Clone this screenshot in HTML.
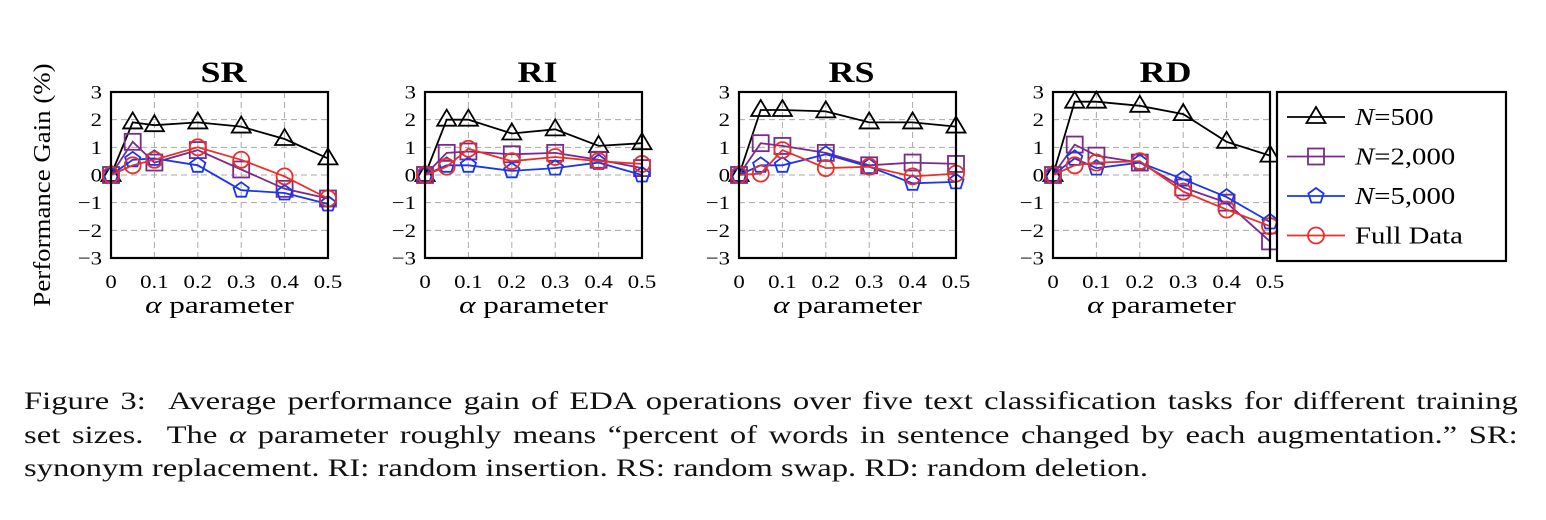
<!DOCTYPE html>
<html><head><meta charset="utf-8"><style>
body{margin:0;background:#fff;width:1546px;height:520px;overflow:hidden;font-family:"Liberation Serif",serif}
svg{position:absolute;left:0;top:0}
#cap{position:absolute;left:24px;top:384px;width:1167px;font-size:25.5px;line-height:33.5px;color:#111;transform:scaleX(1.28);transform-origin:0 0}
#cap div{white-space:nowrap;text-align:justify;text-align-last:justify}
#cap div.last{text-align-last:left}
</style></head><body>
<svg id="chart" width="1546" height="380" xmlns="http://www.w3.org/2000/svg" font-family="Liberation Serif, serif"></svg>
<div id="cap">
<div>Figure 3: &nbsp;Average performance gain of EDA operations over five text classification tasks for different training</div>
<div>set sizes. &nbsp;The <i>α</i> parameter roughly means “percent of words in sentence changed by each augmentation.” SR:</div>
<div class="last">synonym replacement. RI: random insertion. RS: random swap. RD: random deletion.</div>
</div>
<script>
const alphas=[0,0.05,0.1,0.2,0.3,0.4,0.5];
const xTicks=[0,0.1,0.2,0.3,0.4,0.5];
const yTicks=[-3,-2,-1,0,1,2,3];
const panels=["SR","RI","RS","RD"];
const seriesNames=["N=500","N=2,000","N=5,000","Full Data"];
const srN500=[0,1.9,1.8,1.9,1.75,1.3,0.6];
const srN2000=[0,1.2,0.45,0.9,0.2,-0.5,-0.85];
const srN5000=[0,0.55,0.6,0.35,-0.55,-0.65,-1.05];
const srFull=[0,0.35,0.55,1.0,0.55,-0.05,-0.85];
const riN500=[0,2.0,2.0,1.5,1.65,1.05,1.15];
const riN2000=[0,0.8,0.85,0.75,0.8,0.55,0.25];
const riN5000=[0,0.35,0.35,0.15,0.25,0.45,0.0];
const riFull=[0,0.3,0.95,0.5,0.65,0.5,0.4];
const rsN500=[0,2.35,2.35,2.3,1.9,1.9,1.75];
const rsN2000=[0,1.15,1.05,0.8,0.35,0.45,0.4];
const rsN5000=[0,0.35,0.35,0.75,0.3,-0.3,-0.25];
const rsFull=[0,0.05,0.9,0.25,0.3,-0.05,0.05];
const rdN500=[0,2.65,2.65,2.5,2.2,1.2,0.7];
const rdN2000=[0,1.1,0.7,0.45,-0.45,-1.0,-2.4];
const rdN5000=[0,0.6,0.25,0.45,-0.15,-0.8,-1.7];
const rdFull=[0,0.35,0.45,0.5,-0.6,-1.25,-1.85];
const data=[[srN500,srN2000,srN5000,srFull],[riN500,riN2000,riN5000,riFull],[rsN500,rsN2000,rsN5000,rsFull],[rdN500,rdN2000,rdN5000,rdFull]];
const colors=["#000","#7b2a8a","#1a35f0","#e8302a"];
const shapes=["tri","sq","pent","circ"];
const NS="http://www.w3.org/2000/svg";
const svg=document.getElementById("chart");
function mk(t,a,p){const e=document.createElementNS(NS,t);for(const k in a)e.setAttribute(k,a[k]);(p||svg).appendChild(e);return e;}
function txt(p,x,y,size,anchor,sc,extra){const a={x:0,y:0,"font-size":size,"text-anchor":anchor,transform:`translate(${x},${y}) scale(${sc},1)`};Object.assign(a,extra||{});return mk("text",a,p);}
const lefts=[111,425,739,1053],W=217,plotTop=92,H=166;
function marker(g,s,x,y,c){
  let e;
  if(s==="tri"){const r=10;e=mk("polygon",{points:`${x},${y-r} ${x+r*0.95},${y+r*0.6} ${x-r*0.95},${y+r*0.6}`},g);}
  else if(s==="sq"){e=mk("rect",{x:x-8,y:y-8,width:16,height:16},g);}
  else if(s==="pent"){let p=[];for(let i=0;i<5;i++){const a=-Math.PI/2+i*2*Math.PI/5;p.push((x+8*Math.cos(a)).toFixed(1)+","+(y+8*Math.sin(a)).toFixed(1));}e=mk("polygon",{points:p.join(" ")},g);}
  else e=mk("circle",{cx:x,cy:y,r:8},g);
  e.setAttribute("fill","none");e.setAttribute("stroke",c);e.setAttribute("stroke-width","1.8");
  
  
}
panels.forEach((name,pi)=>{
  const L=lefts[pi];
  const sx=v=>L+v/0.5*W, sy=v=>plotTop+(3-v)/6*H;
  const g=mk("g",{});
  
  
  xTicks.forEach(t=>{if(t>0&&t<0.5)mk("line",{x1:sx(t),x2:sx(t),y1:plotTop,y2:plotTop+H,stroke:"#aaa","stroke-dasharray":"6,4","stroke-width":1},g);
    const tl=txt(g,sx(t),288,19,"middle",1.2);tl.textContent=String(t);
    });
  yTicks.forEach(t=>{if(t>-3&&t<3)mk("line",{x1:L,x2:L+W,y1:sy(t),y2:sy(t),stroke:"#aaa","stroke-dasharray":"6,4","stroke-width":1},g);
    const tl=txt(g,L-9,sy(t)+6.5,19,"end",1.2);tl.textContent=t<0?"−"+(-t):String(t);
    });
  const ttl=txt(g,L+W/2+4,82,30,"middle",1.2,{"font-weight":"bold"});ttl.textContent=name;
  
  const xl=txt(g,L+W/2,313,24,"middle",1.3);xl.innerHTML='<tspan font-style="italic">α</tspan> parameter';
  
  data[pi].forEach((vals,si)=>{
    const pts=vals.map((v,i)=>sx(alphas[i]).toFixed(1)+","+sy(v).toFixed(1)).join(" ");
    const pl=mk("polyline",{points:pts,fill:"none",stroke:colors[si],"stroke-width":1.8},g);
    
    vals.forEach((v,i)=>marker(g,shapes[si],sx(alphas[i]),sy(v),colors[si]));
  });
  const fr=mk("rect",{x:L,y:plotTop,width:W,height:H,fill:"none",stroke:"#000","stroke-width":2.2},g);
  
});
const yt=mk("text",{x:0,y:0,"font-size":24,"text-anchor":"middle",transform:"translate(50,185) rotate(-90) scale(1.12,1)"});
yt.textContent="Performance Gain (%)";

const lg=mk("g",{});

mk("rect",{x:1277,y:92,width:229,height:169,fill:"#fff",stroke:"#000","stroke-width":2.2},lg);
seriesNames.forEach((n,i)=>{
  const y=117+i*39.5;
  const ent=mk("g",{},lg);
  
  mk("line",{x1:1287,x2:1345,y1:y,y2:y,stroke:colors[i],"stroke-width":1.8},ent);
  marker(ent,shapes[i],1316,y,colors[i]);
  const t=txt(ent,1355,y+8,24,"start",1.2);
  if(i<3)t.innerHTML='<tspan font-style="italic">N</tspan>='+n.slice(2);else t.textContent=n;
});
</script>
</body></html>
